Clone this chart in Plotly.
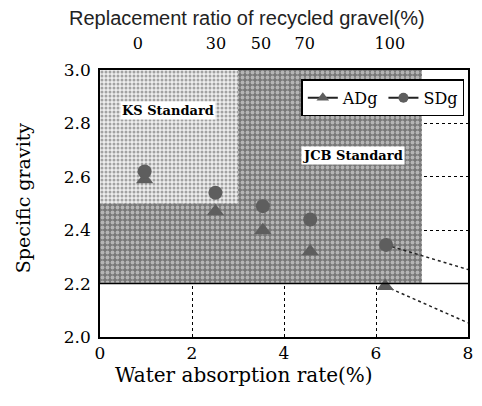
import numpy as np
import plotly.graph_objects as go

# ---- data ----
absorption_adg = [0.97, 2.51, 3.54, 4.57, 6.20]
gravity_adg = [2.59, 2.47, 2.40, 2.32, 2.19]
absorption_sdg = [0.97, 2.51, 3.54, 4.57, 6.22]
gravity_sdg = [2.62, 2.54, 2.49, 2.44, 2.345]

replacement_ratio_labels = ["0", "30", "50", "70", "100"]
replacement_ratio_pos = [0.82, 2.52, 3.5, 4.45, 6.3]

x_ticks = [0, 2, 4, 6, 8]
y_ticks = [2.0, 2.2, 2.4, 2.6, 2.8, 3.0]

# standards limits: (max absorption, min specific gravity)
ks_limits = (3.0, 2.5)
jcb_limits = (7.0, 2.2)

SERIF = "DejaVu Serif, Liberation Serif, serif"
SANS = "Liberation Sans, Arial, sans-serif"

fig = go.Figure()

# JCB standard region (darker stipple)
jx, jy = jcb_limits
fig.add_trace(go.Scatter(
    x=[0, jx, jx, 0, 0], y=[jy, jy, 3.0, 3.0, jy], mode="lines",
    fill="toself", line=dict(width=0), fillcolor="#8c8c8c",
    fillpattern=dict(shape=".", bgcolor="#777777", fgcolor="#f2f2f2", size=5, solidity=0.45),
    showlegend=False, hoverinfo="skip"))
# KS standard region (lighter stipple)
kx, ky = ks_limits
fig.add_trace(go.Scatter(
    x=[0, kx, kx, 0, 0], y=[ky, ky, 3.0, 3.0, ky], mode="lines",
    fill="toself", line=dict(width=0), fillcolor="#cfcfcf",
    fillpattern=dict(shape=".", bgcolor="#eeeeee", fgcolor="#555555", size=4, solidity=0.45),
    showlegend=False, hoverinfo="skip"))

# trend extensions to the right edge
for xs, ys in [(absorption_adg, gravity_adg), (absorption_sdg, gravity_sdg)]:
    slope, icpt = np.polyfit(xs, ys, 1)
    x0 = xs[-1]
    y0 = ys[-1]
    fig.add_trace(go.Scatter(
        x=[x0, 8], y=[y0, y0 + slope * (8 - x0)], mode="lines",
        line=dict(color="#222", width=1.5, dash="dot"),
        showlegend=False, hoverinfo="skip"))

# data markers
fig.add_trace(go.Scatter(
    x=absorption_adg, y=gravity_adg, name="ADg", mode="markers",
    marker=dict(symbol="triangle-up", size=15, color="#5e5e5e"), showlegend=False,
))
fig.add_trace(go.Scatter(
    x=absorption_sdg, y=gravity_sdg, name="SDg", mode="markers",
    marker=dict(symbol="circle", size=14, color="#5e5e5e"), showlegend=False,
))
# legend entries (line + marker)
fig.add_trace(go.Scatter(x=[None], y=[None], name="ADg", mode="lines+markers",
                         line=dict(color="#222", width=2),
                         marker=dict(symbol="triangle-up", size=11, color="#5e5e5e")))
fig.add_trace(go.Scatter(x=[None], y=[None], name="SDg", mode="lines+markers",
                         line=dict(color="#222", width=2),
                         marker=dict(symbol="circle", size=10, color="#5e5e5e")))

# dummy trace for top axis
fig.add_trace(go.Scatter(x=[0, 8], y=[2.0, 2.0], xaxis="x2", mode="markers",
                         marker=dict(opacity=0), showlegend=False, hoverinfo="skip"))

# lower JCB gravity limit line across the whole width
fig.add_shape(type="line", xref="x", yref="y", x0=0, x1=8, y0=jy, y1=jy,
              line=dict(color="black", width=1.5))

fig.add_annotation(x=1.48, y=2.85, xref="x", yref="y", text="KS Standard",
                   showarrow=False, bgcolor="white",
                   font=dict(family=SERIF, size=13, color="black", weight="bold"))
fig.add_annotation(x=5.5, y=2.68, xref="x", yref="y", text="JCB Standard",
                   showarrow=False, bgcolor="white",
                   font=dict(family=SERIF, size=13, color="black", weight="bold"))

fig.add_annotation(x=0.40, y=1, xref="paper", yref="paper", yanchor="middle",
                   yshift=52, text="Replacement ratio of recycled gravel(%)",
                   showarrow=False, font=dict(family=SANS, size=20, color="#222"))
fig.add_annotation(x=0.39, y=0, xref="paper", yref="paper", yanchor="middle",
                   yshift=-38, text="Water absorption rate(%)",
                   showarrow=False, font=dict(family=SERIF, size=20, color="black"))
fig.add_annotation(x=0, y=0.52, xref="paper", yref="paper", xanchor="center",
                   xshift=-77, text="Specific gravity", textangle=-90,
                   showarrow=False, font=dict(family=SERIF, size=19, color="black"))

fig.update_layout(
    width=482, height=406,
    margin=dict(l=100, r=9, t=70, b=69),
    paper_bgcolor="white", plot_bgcolor="white",
    showlegend=True,
    legend=dict(orientation="h", x=0.99, xanchor="right", y=0.965, yanchor="top",
                bgcolor="white", bordercolor="black", borderwidth=1.5,
                font=dict(family=SERIF, size=16, color="black"),
                itemwidth=30, tracegroupgap=0),
    xaxis=dict(range=[0, 8], tickvals=x_ticks, showgrid=True,
               gridcolor="black", griddash="dot", gridwidth=1,
               showline=True, linecolor="black", linewidth=1.5, mirror=True,
               ticks="", zeroline=False,
               tickfont=dict(family=SERIF, size=17, color="black")),
    xaxis2=dict(range=[0, 8], overlaying="x", side="top", tickvals=replacement_ratio_pos,
                ticktext=replacement_ratio_labels, showgrid=False, zeroline=False,
                ticks="", showline=False, ticklabelstandoff=17,
                tickfont=dict(family=SERIF, size=16, color="black")),
    yaxis=dict(range=[2.0, 3.0], tickvals=y_ticks, tickformat=".1f", showgrid=True,
               gridcolor="black", griddash="dot", gridwidth=1,
               showline=True, linecolor="black", linewidth=1.5, mirror=True,
               ticks="", zeroline=False, ticklabelstandoff=4,
               tickfont=dict(family=SERIF, size=17, color="black")),
)

fig.write_html("out.html")
